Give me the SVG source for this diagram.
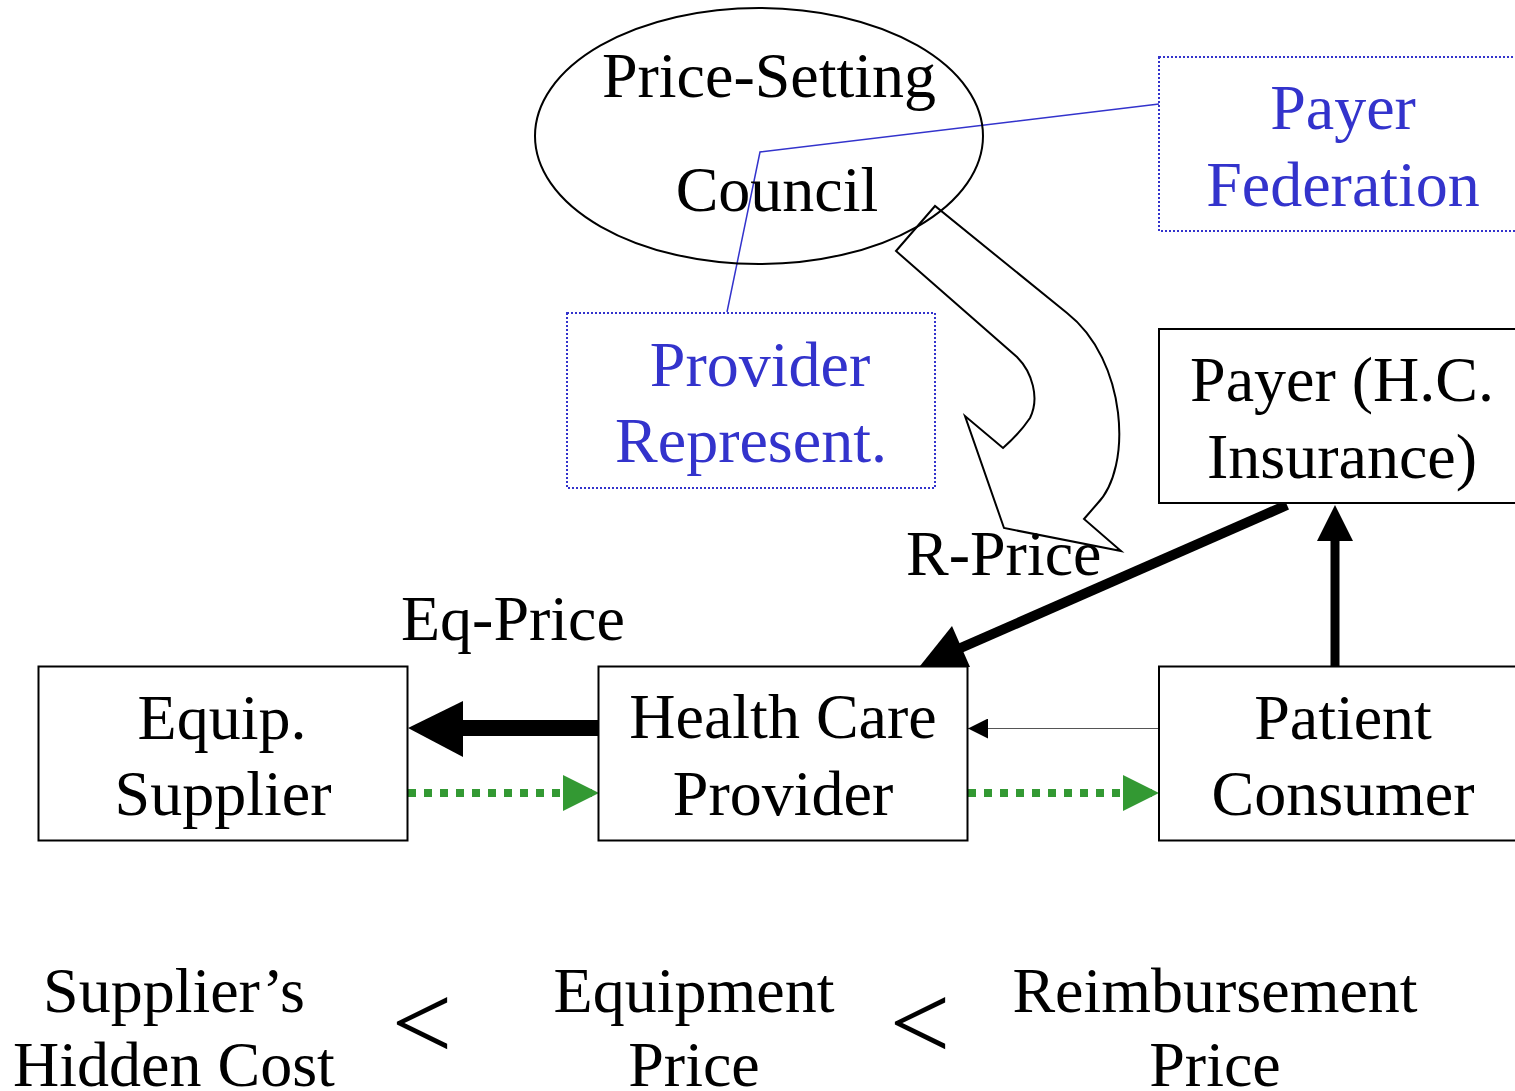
<svg xmlns="http://www.w3.org/2000/svg" width="1515" height="1091" viewBox="0 0 1515 1091">
  <style>
    text { font-family: "Liberation Serif", "Times New Roman", serif; font-size: 64px; fill: #000; text-anchor: middle; }
    text.blue { fill: #3333CC; }
    text.left { text-anchor: start; }
    text.lt { font-size: 108px; }
    .box { fill: #fff; stroke: #000; stroke-width: 2; }
    .dotbox { fill: none; stroke: #3333CC; stroke-width: 2; stroke-dasharray: 2 2; }
    .thick { stroke: #000; fill: none; }
    .green { stroke: #339933; stroke-width: 8; stroke-dasharray: 8 8; fill: none; }
  </style>
  <defs>
    <marker id="greenHead" markerUnits="userSpaceOnUse" markerWidth="36" markerHeight="36" refX="36" refY="18" orient="auto" viewBox="0 0 36 36">
      <path d="M0 0 L36 18 L0 36 Z" fill="#339933"/>
    </marker>
    <marker id="thinHead" markerUnits="userSpaceOnUse" markerWidth="20" markerHeight="20" refX="20" refY="10" orient="auto" viewBox="0 0 20 20">
      <path d="M0 0 L20 10 L0 20 Z" fill="#000"/>
    </marker>
  </defs>

  <!-- connectors -->
  <g id="connectors">
    <!-- blue link from payer federation and provider representatives into the council -->
    <polyline points="1159,104 760,152 727,312" fill="none" stroke="#3333CC" stroke-width="1.5"/>

    <!-- curved R-Price arrow leaving the council -->
    <path d="M935 206 L896 251 L1017 357 C1032 372 1040 398 1030 418 Q1020 433 1003 448 L965 416 L1004 528 L1121 551 L1084 519 L1097 504 C1133 468 1127 360 1067 313 Z" fill="#fff" stroke="#000" stroke-width="2" stroke-linejoin="miter"/>

    <!-- payer to provider (reimbursement) -->
    <line x1="1287" y1="505" x2="956" y2="650" class="thick" stroke-width="10"/>
    <polygon points="920,666 952,626 970,667" fill="#000"/>

    <!-- patient to payer -->
    <line x1="1335" y1="666" x2="1335" y2="535" class="thick" stroke-width="9"/>
    <polygon points="1335,505 1353,541 1317,541" fill="#000"/>

    <!-- provider to supplier (equipment price) -->
    <line x1="599" y1="728" x2="460" y2="728" class="thick" stroke-width="16"/>
    <polygon points="408,728 463,701 463,757" fill="#000"/>

    <!-- patient to provider, thin -->
    <line x1="1159" y1="728.5" x2="968" y2="728.5" stroke="#555" stroke-width="1.2" marker-end="url(#thinHead)"/>

    <!-- green dotted flows -->
    <line x1="408" y1="793" x2="599" y2="793" class="green" marker-end="url(#greenHead)"/>
    <line x1="968" y1="793" x2="1159" y2="793" class="green" marker-end="url(#greenHead)"/>
  </g>

  <!-- nodes -->
  <g id="council">
    <ellipse cx="759" cy="136" rx="224" ry="128" fill="none" stroke="#000" stroke-width="2"/>
    <text x="769" y="97">Price-Setting</text>
    <text x="777" y="211">Council</text>
  </g>

  <g id="payer-federation">
    <rect class="dotbox" x="1159" y="57" width="365" height="174"/>
    <text class="blue" x="1343" y="129">Payer</text>
    <text class="blue" x="1343" y="206">Federation</text>
  </g>

  <g id="provider-represent">
    <rect class="dotbox" x="567" y="313" width="368" height="175"/>
    <text class="blue" x="760" y="386">Provider</text>
    <text class="blue" x="751" y="462">Represent.</text>
  </g>

  <g id="payer">
    <rect class="box" x="1159" y="329" width="365" height="174"/>
    <text x="1342" y="401">Payer (H.C.</text>
    <text x="1342" y="478">Insurance)</text>
  </g>

  <g id="equip-supplier">
    <rect class="box" x="38.5" y="666.5" width="369" height="174"/>
    <text x="222" y="739">Equip.</text>
    <text x="223" y="815">Supplier</text>
  </g>

  <g id="health-care-provider">
    <rect class="box" x="598.5" y="666.5" width="369" height="174"/>
    <text x="783" y="738">Health Care</text>
    <text x="783" y="815">Provider</text>
  </g>

  <g id="patient-consumer">
    <rect class="box" x="1159" y="666.5" width="365" height="174"/>
    <text x="1343" y="739">Patient</text>
    <text x="1343" y="815">Consumer</text>
  </g>

  <!-- connector labels -->
  <text class="left" x="906" y="575">R-Price</text>
  <text class="left" x="401" y="640">Eq-Price</text>

  <!-- cost ordering -->
  <g id="ordering">
    <text x="174" y="1012">Supplier’s</text>
    <text x="174" y="1086">Hidden Cost</text>
    <text class="lt" x="422" y="1059">&lt;</text>
    <text x="694" y="1012">Equipment</text>
    <text x="694" y="1086">Price</text>
    <text class="lt" x="920" y="1059">&lt;</text>
    <text x="1215" y="1012">Reimbursement</text>
    <text x="1215" y="1086">Price</text>
  </g>
</svg>
